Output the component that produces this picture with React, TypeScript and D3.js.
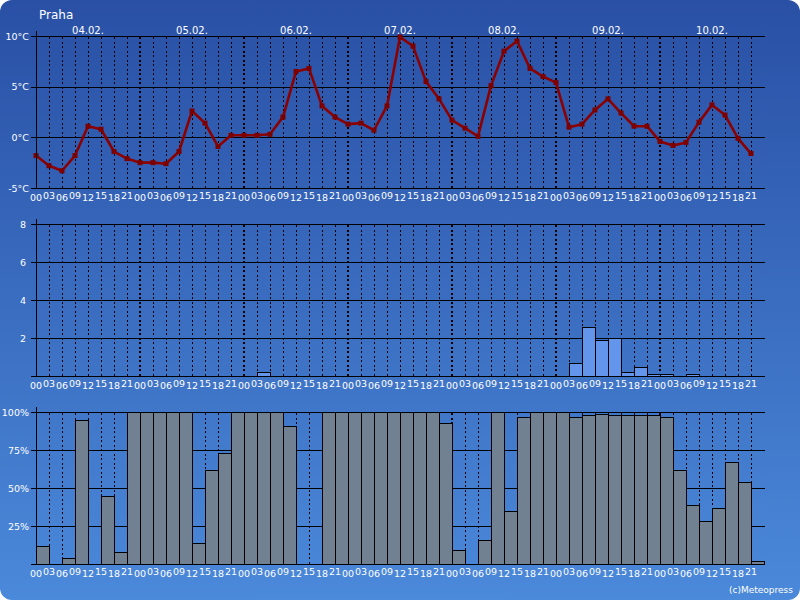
import React from "react";
import * as d3 from "d3";

const place = "Praha";
const days = ["04.02.", "05.02.", "06.02.", "07.02.", "08.02.", "09.02.", "10.02."];
const hours = ["00", "03", "06", "09", "12", "15", "18", "21"];

// 3-hourly temperature (°C)
const temperature = [
  -1.8, -2.8, -3.3, -1.8, 1.1, 0.8, -1.4, -2.1,
  -2.5, -2.5, -2.6, -1.4, 2.6, 1.4, -0.9, 0.2,
  0.2, 0.2, 0.3, 2.0, 6.5, 6.8, 3.1, 2.0,
  1.3, 1.4, 0.7, 3.1, 9.9, 9.0, 5.5, 3.8,
  1.7, 0.9, 0.1, 5.1, 8.5, 9.5, 6.8, 6.0,
  5.4, 1.0, 1.3, 2.7, 3.8, 2.4, 1.1, 1.1,
  -0.4, -0.8, -0.5, 1.5, 3.2, 2.2, -0.1, -1.6,
];

// 3-hourly precipitation (mm)
const precipitation = [
  0, 0, 0, 0, 0, 0, 0, 0,
  0, 0, 0, 0, 0, 0, 0, 0,
  0, 0.2, 0, 0, 0, 0, 0, 0,
  0, 0, 0, 0, 0, 0, 0, 0,
  0, 0, 0, 0, 0, 0, 0, 0,
  0, 0.7, 2.6, 1.9, 2.0, 0.2, 0.5, 0.1,
  0.1, 0, 0.1, 0, 0, 0, 0, 0,
];

// 3-hourly cloud cover (%)
const cloudCover = [
  12, 0, 4, 95, 0, 45, 8, 100,
  100, 100, 100, 100, 14, 62, 73, 100,
  100, 100, 100, 91, 0, 0, 100, 100,
  100, 100, 100, 100, 100, 100, 100, 93,
  9, 0, 16, 100, 35, 97, 100, 100,
  100, 97, 98, 99, 98, 98, 98, 98,
  97, 62, 39, 28, 37, 67, 54, 2,
];

const tempTicks = [10, 5, 0, -5];
const precipTicks = [8, 6, 4, 2, 0];
const cloudTicks = [100, 75, 50, 25, 0];

const FONT = "'DejaVu Sans', Verdana, sans-serif";
const X0 = 36;
const X1 = 764;
const steps = temperature.length;

const x = d3.scaleLinear().domain([0, steps]).range([X0, X1]);

type PanelProps = {
  y: d3.ScaleLinear<number, number>;
  ticks: number[];
  fmt: (v: number) => string;
  labelX: number;
  children?: React.ReactNode;
};

function Panel({ y, ticks, fmt, labelX, children }: PanelProps) {
  const [yMin, yMax] = y.domain();
  const top = y(yMax);
  const bottom = y(yMin);
  const idx = d3.range(1, steps);
  return (
    <g>
      {idx.map((i) => {
        const heavy = i % 8 === 0;
        const xx = Math.round(x(i)) + (heavy ? 0 : 0.5);
        return (
          <line
            key={"v" + i}
            x1={xx}
            x2={xx}
            y1={top + 1}
            y2={bottom}
            stroke="#000"
            strokeWidth={heavy ? 2 : 1}
            strokeDasharray="2 2.5"
            shapeRendering="crispEdges"
          />
        );
      })}
      {ticks.map((t) => {
        const yy = Math.round(y(t)) + 0.5;
        return (
          <line
            key={"h" + t}
            x1={X0 - 5}
            x2={X1 + 1}
            y1={yy}
            y2={yy}
            stroke="#000"
            strokeWidth={1}
            shapeRendering="crispEdges"
          />
        );
      })}
      {children}
      <line
        x1={X0 + 0.5}
        x2={X0 + 0.5}
        y1={top - 5}
        y2={bottom}
        stroke="#000"
        strokeWidth={1}
        shapeRendering="crispEdges"
      />
      {ticks
        .filter((t) => fmt(t) !== "")
        .map((t) => (
          <text
            key={"yl" + t}
            x={labelX}
            y={y(t) + 3.5}
            textAnchor="end"
            fill="#fff"
            fontSize={9.5}
            fontFamily={FONT}
          >
            {fmt(t)}
          </text>
        ))}
      {d3.range(0, steps).map((i) => (
        <text
          key={"xl" + i}
          x={x(i)}
          y={bottom + (i % 2 === 0 ? 12.5 : 10.5)}
          textAnchor="middle"
          fill="#fff"
          fontSize={9.5}
          fontFamily={FONT}
        >
          {hours[i % hours.length]}
        </text>
      ))}
    </g>
  );
}

export default function App() {
  const yT = d3.scaleLinear().domain([-5, 10]).range([188, 36]);
  const yP = d3.scaleLinear().domain([0, 8]).range([376, 224]);
  const yC = d3.scaleLinear().domain([0, 100]).range([564, 412]);

  const line = d3
    .line<number>()
    .x((_, i) => x(i))
    .y((d) => yT(d));

  return (
    <svg
      width={800}
      height={600}
      style={{ position: "absolute", left: 0, top: 0, display: "block" }}
    >
      <defs>
        <linearGradient id="bg" x1="0" y1="0" x2="0" y2="1">
          <stop offset="0%" stopColor="#2950a5" />
          <stop offset="100%" stopColor="#4b89da" />
        </linearGradient>
      </defs>
      <rect x={0} y={0} width={800} height={600} fill="#fff" />
      <rect x={0} y={0} width={800} height={600} rx={12} ry={12} fill="url(#bg)" />

      <text x={39} y={19} fill="#fff" fontSize={12} fontFamily={FONT}>
        {place}
      </text>
      {days.map((d, k) => (
        <text
          key={d}
          x={x(k * 8 + 4)}
          y={33.5}
          textAnchor="middle"
          fill="#fff"
          fontSize={10}
          fontFamily={FONT}
        >
          {d}
        </text>
      ))}

      <Panel y={yT} ticks={tempTicks} fmt={(v) => `${v}°C`} labelX={29}>
        <path
          d={line(temperature) || ""}
          fill="none"
          stroke="#8b0000"
          strokeWidth={2.6}
          strokeLinejoin="round"
        />
        {temperature.map((t, i) => (
          <rect
            key={"m" + i}
            x={x(i) - 2.5}
            y={yT(t) - 2.5}
            width={5}
            height={5}
            fill="#7d0000"
          />
        ))}
      </Panel>

      <Panel y={yP} ticks={precipTicks} fmt={(v) => (v === 0 ? "" : `${v}`)} labelX={26}>
        {precipitation.map((p, i) =>
          p > 0 ? (
            <rect
              key={"p" + i}
              x={Math.round(x(i)) + 0.5}
              y={Math.round(yP(p)) + 0.5}
              width={Math.round(x(i + 1)) - Math.round(x(i))}
              height={Math.round(yP(0)) - Math.round(yP(p))}
              fill="#6495ed"
              stroke="#000"
              strokeWidth={1}
              shapeRendering="crispEdges"
            />
          ) : null
        )}
      </Panel>

      <Panel y={yC} ticks={cloudTicks} fmt={(v) => (v === 0 ? "" : `${v}%`)} labelX={29}>
        {cloudCover.map((c, i) =>
          c > 0 ? (
            <rect
              key={"c" + i}
              x={Math.round(x(i)) + 0.5}
              y={Math.round(yC(c)) + 0.5}
              width={Math.round(x(i + 1)) - Math.round(x(i))}
              height={Math.round(yC(0)) - Math.round(yC(c))}
              fill="#718191"
              stroke="#000"
              strokeWidth={1}
              shapeRendering="crispEdges"
            />
          ) : null
        )}
      </Panel>

      <text
        x={793}
        y={593}
        textAnchor="end"
        fill="#fff"
        fontSize={9}
        fontFamily={FONT}
      >
        (c)Meteopress
      </text>
    </svg>
  );
}
